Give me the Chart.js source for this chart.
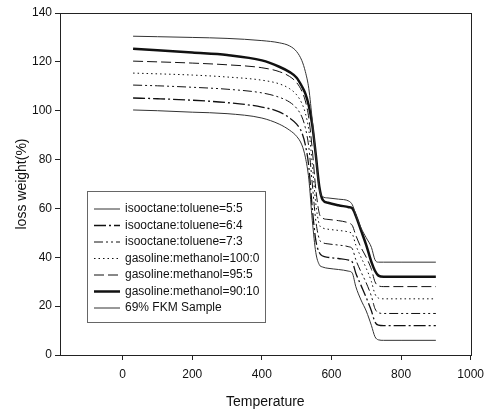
<!DOCTYPE html>
<html>
<head>
<meta charset="utf-8">
<script src="https://cdn.jsdelivr.net/npm/chart.js@4"></script>
<style>
  html, body { margin: 0; padding: 0; background: #fff; }
  #wrap { width: 491px; height: 415px; position: relative; }
</style>
</head>
<body>
<div id="wrap"><canvas id="tga"></canvas></div>
<script>
// temperature points
var temps = [30, 100, 200, 300, 400, 450, 480, 500, 515, 525, 535, 545, 555, 565, 575, 590, 620, 650, 660, 670, 685, 700, 715, 725, 735, 750, 800, 900];

var iso55  = [130.5, 130.3, 130, 129.6, 128.7, 127.8, 126.5, 124.2, 120.5, 116, 109, 96, 82, 68, 64.8, 64.3, 63.8, 63, 61.5, 57.5, 52, 48, 44, 39, 38, 38, 38, 38];
var gas9010 = [125.4, 124.8, 123.8, 122.8, 120.6, 118, 115.8, 113.5, 110, 107, 102, 94, 82, 69, 63.5, 62.3, 61.3, 60.5, 60, 57, 51, 45, 38, 34.5, 32.5, 32, 32, 32];
var gas955 = [120.3, 120, 119.5, 118.8, 117.6, 116, 114, 111.5, 108, 104, 97, 84, 68, 58, 56, 55.5, 55, 54, 53, 49, 44, 40, 35, 30, 28.3, 28, 28, 28];
var gas1000 = [115.4, 115.1, 114.6, 113.8, 112.5, 111, 109, 106.5, 103, 99, 92, 78, 62, 53.5, 52, 51.5, 51, 50.3, 49.5, 45, 40, 35.5, 30, 25, 23.3, 23, 23, 23];
var iso73  = [110.5, 110.2, 109.6, 108.8, 107.3, 105.5, 103.5, 101, 97.5, 93, 85, 70, 55, 47.5, 46, 45.5, 45, 44.3, 43.5, 39, 34, 29.5, 24, 19, 17.3, 17, 17, 17];
var iso64  = [105.2, 104.9, 104.3, 103.3, 101.5, 99.5, 97, 94.5, 91, 86, 77, 60, 47, 42, 40.5, 40, 39.5, 38.8, 38, 33.5, 28.5, 23.5, 18, 13.5, 12.2, 12, 12, 12];
var fkm    = [100.3, 100, 99.4, 98.8, 97, 94.5, 92, 89.5, 86, 81, 72, 55, 42, 37, 36, 35.5, 35, 34.3, 33.5, 28, 22.5, 18, 12, 7.5, 6.2, 6, 6, 6];

var xTicks = [0, 200, 400, 600, 800, 1000];

function pts(vals) {
  return temps.map(function (t, i) { return { x: t, y: vals[i] }; });
}

function ds(label, vals, width, dash, color) {
  return {
    label: label,
    data: pts(vals),
    borderColor: color || '#111',
    borderWidth: width,
    borderDash: dash,
    pointRadius: 0,
    fill: false,
    cubicInterpolationMode: 'monotone'
  };
}

var font = "'Liberation Sans', Arial, sans-serif";

// legend drawn inside the plot, boxed like the original
var boxLegend = {
  id: 'boxLegend',
  afterDraw: function (chart) {
    var c = chart.ctx;
    var left = 87, top = 191, right = 265, bottom = 322;
    c.save();
    c.fillStyle = '#fff';
    c.fillRect(left, top, right - left, bottom - top);
    c.strokeStyle = '#666';
    c.lineWidth = 1;
    c.setLineDash([]);
    c.strokeRect(left + 0.5, top + 0.5, right - left, bottom - top);
    c.font = '12px ' + font;
    c.textBaseline = 'middle';
    c.fillStyle = '#111';
    chart.data.datasets.forEach(function (d, i) {
      var y = 209 + i * 16.5;
      c.strokeStyle = d.borderColor;
      c.lineWidth = d.borderWidth;
      c.setLineDash(d.borderDash || []);
      c.beginPath();
      c.moveTo(94, y);
      c.lineTo(120, y);
      c.stroke();
      c.fillText(d.label, 125, y);
    });
    c.restore();
  }
};

var frame = {
  id: 'frame',
  afterDatasetsDraw: function (chart) {
    var a = chart.chartArea, c = chart.ctx;
    c.save();
    c.strokeStyle = '#222';
    c.lineWidth = 1;
    c.strokeRect(Math.round(a.left) + 0.5, Math.round(a.top) + 0.5, Math.round(a.right - a.left), Math.round(a.bottom - a.top));
    c.restore();
  }
};

var ctx = document.getElementById('tga');
var chart = new Chart(ctx, {
  type: 'line',
  data: {
    datasets: [
      ds('isooctane:toluene=5:5', iso55, 1, [], '#333'),
      ds('isooctane:toluene=6:4', iso64, 1.3, [12, 3, 2, 3]),
      ds('isooctane:toluene=7:3', iso73, 1, [9, 3, 2, 3, 2, 3]),
      ds('gasoline:methanol=100:0', gas1000, 1, [1.5, 3]),
      ds('gasoline:methanol=95:5', gas955, 1, [10, 4]),
      ds('gasoline:methanol=90:10', gas9010, 2.5, []),
      ds('69% FKM Sample', fkm, 1, [], '#333')
    ]
  },
  options: {
    responsive: true,
    maintainAspectRatio: false,
    animation: false,
    layout: { padding: { top: 13, right: 14, left: 0, bottom: 0 } },
    plugins: { legend: { display: false }, tooltip: { enabled: false } },
    scales: {
      x: {
        type: 'linear',
        min: -180,
        max: 1000,
        afterBuildTicks: function (s) { s.ticks = xTicks.map(function (v) { return { value: v }; }); },
        afterFit: function (s) { s.height = 60; },
        grid: { display: true, drawOnChartArea: false, tickLength: 5, color: '#222' },
        border: { display: true, color: '#222' },
        ticks: { color: '#111', font: { family: font, size: 12 }, padding: 7, maxRotation: 0,
                 callback: function (v) { return String(v); } },
        title: { display: true, text: 'Temperature', color: '#111', font: { family: font, size: 14 }, padding: { top: 10 } }
      },
      y: {
        min: 0,
        max: 140,
        afterFit: function (s) { s.width = 60; },
        grid: { display: true, drawOnChartArea: false, tickLength: 5, color: '#222' },
        border: { display: true, color: '#222' },
        ticks: { stepSize: 20, color: '#111', font: { family: font, size: 12 }, padding: 3 },
        title: { display: true, text: 'loss weight(%)', color: '#111', font: { family: font, size: 14 }, padding: { top: 14, bottom: 0 } }
      }
    }
  },
  plugins: [frame, boxLegend]
});
</script>
</body>
</html>
